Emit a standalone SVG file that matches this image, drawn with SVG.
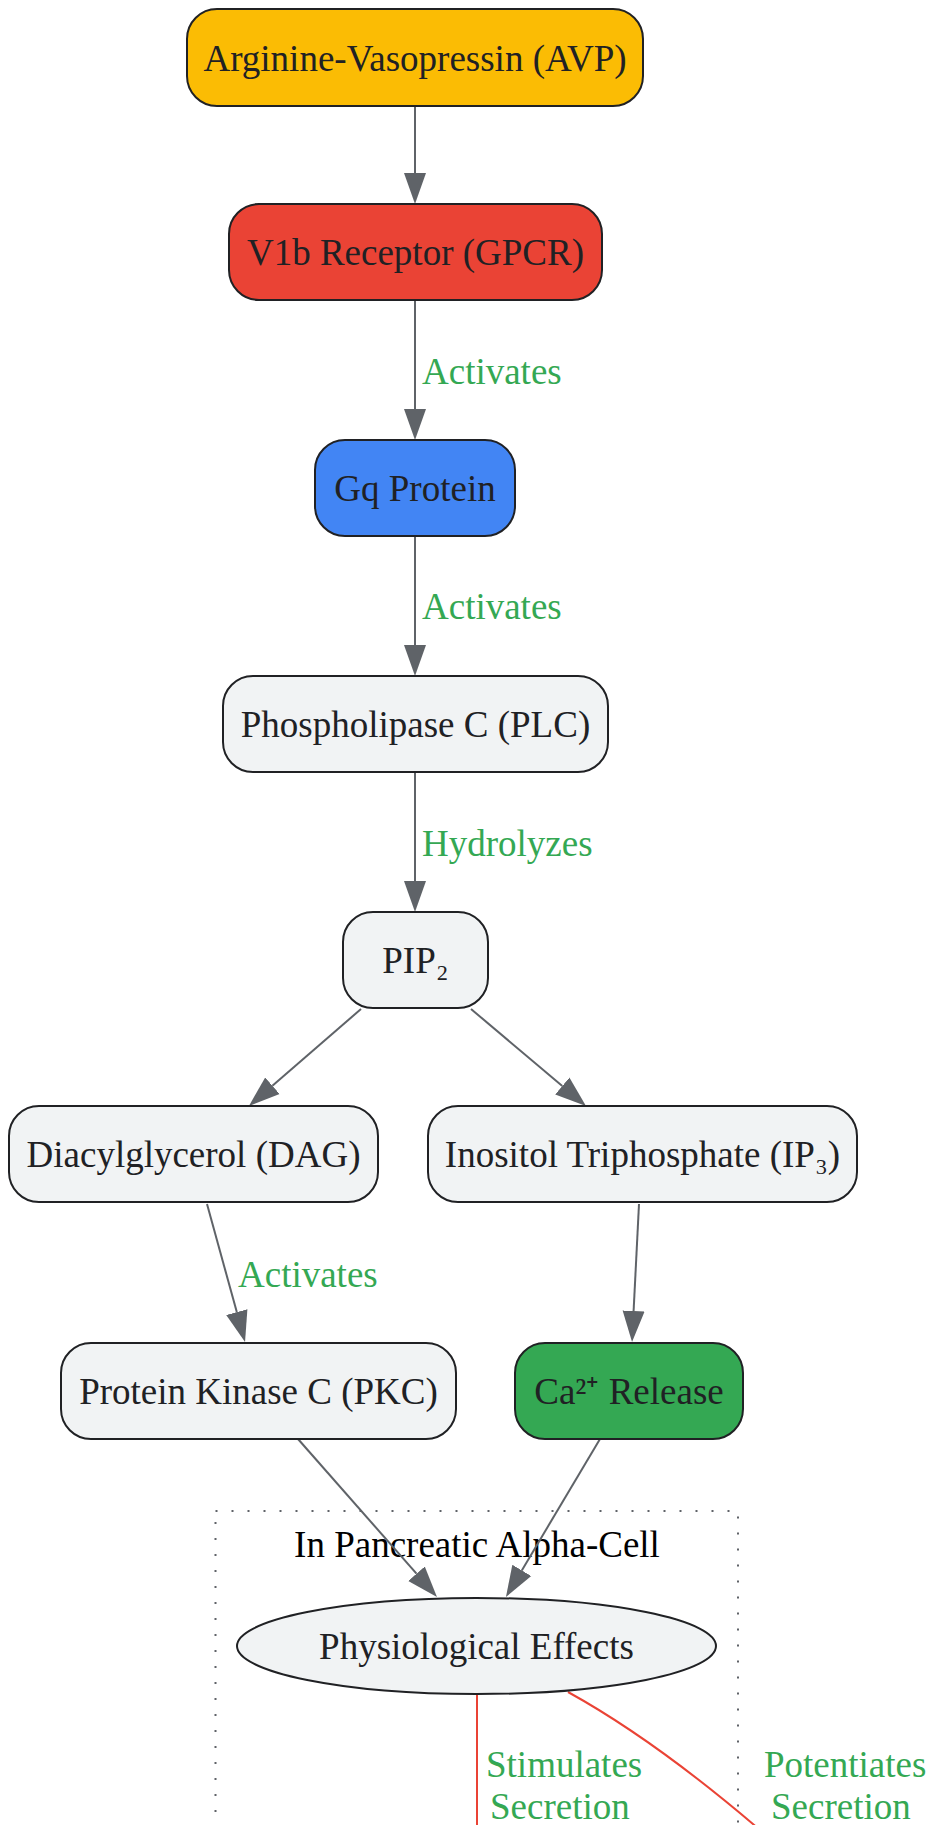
<svg xmlns="http://www.w3.org/2000/svg" width="932" height="1825" viewBox="0 0 932 1825">
<style>
.node rect, .node ellipse { stroke: #202124; stroke-width: 2; }
.nt { font-family: "Liberation Serif", "Times New Roman", serif; font-size: 37px; fill: #202124; text-anchor: middle; }
.el { font-family: "Liberation Serif", "Times New Roman", serif; font-size: 37px; fill: #34A853; }
.edge { stroke: #5F6368; stroke-width: 2; fill: none; }
.red { stroke: #EA4335; stroke-width: 2; fill: none; }
.gray { fill: #F1F3F4; }
</style>
<defs>
<marker id="arr" markerUnits="userSpaceOnUse" markerWidth="32" markerHeight="24" refX="0" refY="11" orient="auto" viewBox="0 0 32 22">
<path d="M0,0 L31,11 L0,22 z" fill="#5F6368"/>
</marker>
</defs>
<rect width="932" height="1825" fill="#ffffff"/>
<g id="cluster-alpha">
<rect x="215.5" y="1511" width="522.5" height="420" fill="none" stroke="#5F6368" stroke-width="2" stroke-dasharray="2 14"/>
<text x="477" y="1557" font-family="Liberation Serif, Times New Roman, serif" font-size="37" fill="#000000" text-anchor="middle">In Pancreatic Alpha-Cell</text>
</g>
<g id="connectors">
<line class="edge" x1="415" y1="106" x2="415" y2="173" marker-end="url(#arr)"/>
<line class="edge" x1="415" y1="300" x2="415" y2="409" marker-end="url(#arr)"/>
<line class="edge" x1="415" y1="536" x2="415" y2="645" marker-end="url(#arr)"/>
<line class="edge" x1="415" y1="772" x2="415" y2="881" marker-end="url(#arr)"/>
<line class="edge" x1="361" y1="1009" x2="272.4" y2="1085.7" marker-end="url(#arr)"/>
<line class="edge" x1="471" y1="1009" x2="562.3" y2="1086" marker-end="url(#arr)"/>
<line class="edge" x1="207" y1="1204" x2="236.8" y2="1312.1" marker-end="url(#arr)"/>
<line class="edge" x1="639" y1="1204" x2="633.6" y2="1311" marker-end="url(#arr)"/>
<line class="edge" x1="298" y1="1439" x2="416.5" y2="1573.7" marker-end="url(#arr)"/>
<line class="edge" x1="600" y1="1439" x2="521.8" y2="1570.4" marker-end="url(#arr)"/>
<line class="red" x1="477" y1="1694" x2="477" y2="1830"/>
<path class="red" d="M568,1692 Q655,1740 760,1830"/>
<text class="el" x="422" y="384">Activates</text>
<text class="el" x="422" y="619">Activates</text>
<text class="el" x="422" y="856">Hydrolyzes</text>
<text class="el" x="238" y="1287">Activates</text>
<text class="el" x="486" y="1777">Stimulates</text>
<text class="el" x="490" y="1819">Secretion</text>
<text class="el" x="764" y="1777">Potentiates</text>
<text class="el" x="771" y="1819">Secretion</text>
</g>
<g id="node-avp" class="node">
<rect x="187" y="9" width="456" height="97" rx="30" ry="30" fill="#FBBC04"/>
<text class="nt" x="415" y="70.5">Arginine-Vasopressin (AVP)</text>
</g>
<g id="node-v1b" class="node">
<rect x="229" y="204" width="373" height="96" rx="30" ry="30" fill="#EA4335"/>
<text class="nt" x="415.5" y="265">V1b Receptor (GPCR)</text>
</g>
<g id="node-gq" class="node">
<rect x="315" y="440" width="200" height="96" rx="30" ry="30" fill="#4285F4"/>
<text class="nt" x="415" y="501">Gq Protein</text>
</g>
<g id="node-plc" class="node">
<rect x="223" y="676" width="385" height="96" rx="30" ry="30" class="gray"/>
<text class="nt" x="415.5" y="737">Phospholipase C (PLC)</text>
</g>
<g id="node-pip2" class="node">
<rect x="343" y="912" width="145" height="96" rx="30" ry="30" class="gray"/>
<text class="nt" x="415.5" y="973">PIP₂</text>
</g>
<g id="node-dag" class="node">
<rect x="9" y="1106" width="369" height="96" rx="30" ry="30" class="gray"/>
<text class="nt" x="193.5" y="1167">Diacylglycerol (DAG)</text>
</g>
<g id="node-ip3" class="node">
<rect x="428" y="1106" width="429" height="96" rx="30" ry="30" class="gray"/>
<text class="nt" x="642.5" y="1167">Inositol Triphosphate (IP₃)</text>
</g>
<g id="node-pkc" class="node">
<rect x="61" y="1343" width="395" height="96" rx="30" ry="30" class="gray"/>
<text class="nt" x="258.5" y="1404">Protein Kinase C (PKC)</text>
</g>
<g id="node-ca" class="node">
<rect x="515" y="1343" width="228" height="96" rx="30" ry="30" fill="#34A853"/>
<text class="nt" x="629" y="1404">Ca²⁺ Release</text>
</g>
<g id="node-effects" class="node">
<ellipse cx="476.5" cy="1646" rx="239.5" ry="48" class="gray"/>
<text class="nt" x="476.5" y="1659">Physiological Effects</text>
</g>
</svg>
